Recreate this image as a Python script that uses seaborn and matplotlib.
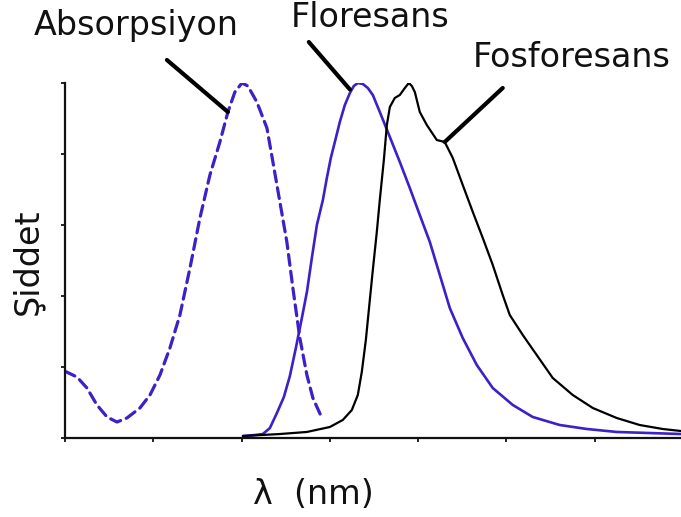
import numpy as np
import pandas as pd
import matplotlib
matplotlib.use("Agg")
import matplotlib.pyplot as plt
import seaborn as sns

# ---- data (arbitrary units) ----
abs_x = [0.0, 0.136, 0.249, 0.362, 0.476, 0.589, 0.702, 0.849, 0.963, 1.076,
         1.189, 1.302, 1.416, 1.529, 1.642, 1.755, 1.846, 1.925, 2.005, 2.072,
         2.174, 2.288, 2.356, 2.435, 2.514, 2.582, 2.661, 2.741, 2.809, 2.911]
abs_y = [0.94, 0.859, 0.704, 0.465, 0.296, 0.225, 0.282, 0.423, 0.606, 0.887,
         1.268, 1.732, 2.394, 3.099, 3.704, 4.169, 4.592, 4.873, 5.0, 4.958,
         4.732, 4.366, 3.887, 3.324, 2.761, 2.113, 1.408, 0.887, 0.563, 0.282]

flu_x = [2.016, 2.152, 2.242, 2.322, 2.401, 2.480, 2.548, 2.616, 2.684, 2.741,
         2.797, 2.854, 2.922, 2.967, 3.012, 3.069, 3.114, 3.171, 3.228, 3.273,
         3.318, 3.375, 3.431, 3.488, 3.567, 3.681, 3.794, 3.907, 4.020, 4.134,
         4.247, 4.360, 4.507, 4.666, 4.847, 5.074, 5.300, 5.606, 5.912, 6.251,
         6.625, 6.976]
flu_y = [0.028, 0.042, 0.056, 0.141, 0.352, 0.577, 0.873, 1.268, 1.690, 2.056,
         2.535, 3.0, 3.352, 3.662, 3.944, 4.225, 4.451, 4.690, 4.859, 4.958,
         5.0, 4.986, 4.930, 4.831, 4.592, 4.239, 3.887, 3.521, 3.141, 2.761,
         2.296, 1.831, 1.408, 1.028, 0.704, 0.465, 0.296, 0.183, 0.127, 0.085,
         0.070, 0.056]

fos_x = [2.016, 2.435, 2.741, 3.001, 3.148, 3.250, 3.318, 3.363, 3.409, 3.454,
         3.488, 3.533, 3.567, 3.613, 3.647, 3.681, 3.737, 3.794, 3.851, 3.896,
         3.930, 3.964, 4.020, 4.100, 4.213, 4.303, 4.394, 4.507, 4.621, 4.734,
         4.847, 4.960, 5.040, 5.187, 5.345, 5.527, 5.753, 5.980, 6.251, 6.512,
         6.772, 6.976]
fos_y = [0.028, 0.056, 0.085, 0.155, 0.254, 0.394, 0.606, 0.930, 1.380, 1.944,
         2.366, 2.901, 3.352, 3.915, 4.408, 4.662, 4.789, 4.831, 4.930, 5.0,
         4.958, 4.873, 4.592, 4.408, 4.197, 4.169, 3.944, 3.563, 3.183, 2.817,
         2.437, 2.014, 1.732, 1.451, 1.169, 0.845, 0.606, 0.423, 0.282, 0.183,
         0.127, 0.099]

labels = ["Absorpsiyon", "Floresans", "Fosforesans"]
x_label = "λ  (nm)"
y_label = "Şiddet"

# ---- styling ----
sns.set_theme(style="white")
plt.rcParams['font.family'] = ['DejaVu Sans']
plt.rcParams['lines.solid_joinstyle'] = 'round'
plt.rcParams['lines.solid_capstyle'] = 'round'

W, H, DPI = 681, 517, 100
fig = plt.figure(figsize=(W / DPI, H / DPI), dpi=DPI)
ax = fig.add_axes([65 / W, (H - 438) / H, (W - 65) / W, (438 - 83) / H])

blue = "#3a22c8"
df_abs = pd.DataFrame({"x": abs_x, "y": abs_y})
df_flu = pd.DataFrame({"x": flu_x, "y": flu_y})
df_fos = pd.DataFrame({"x": fos_x, "y": fos_y})

sns.lineplot(data=df_abs, x="x", y="y", ax=ax, color=blue, lw=2.3,
             sort=False, estimator=None)
ax.lines[-1].set_dashes((3.4, 1.9))
ax.lines[-1].set_dash_capstyle('round')
sns.lineplot(data=df_flu, x="x", y="y", ax=ax, color=blue, lw=1.9,
             sort=False, estimator=None)
sns.lineplot(data=df_fos, x="x", y="y", ax=ax, color="black", lw=1.6,
             sort=False, estimator=None)

ax.set_xlim(0, 6.98)
ax.set_ylim(0, 5.0)
ax.set_xticks(range(0, 7))
ax.set_yticks(range(0, 6))
ax.set_xticklabels([])
ax.set_yticklabels([])
ax.set_xlabel("")
ax.set_ylabel("")
sns.despine(ax=ax, top=True, right=True)
for s in ("left", "bottom"):
    ax.spines[s].set_color("#111111")
    ax.spines[s].set_linewidth(1.6)
ax.tick_params(axis="both", which="both", direction="out", length=3, width=1.3,
               color="#111111", left=True, bottom=True)

# ---- leader lines (from label towards curves) ----
lead = dict(arrowstyle="-", lw=3.0, color="black", shrinkA=0, shrinkB=0)
ax.annotate("", xy=(abs_x[16], abs_y[16]), xytext=(1.155, 5.324),
            arrowprops=lead, annotation_clip=False)
ax.annotate("", xy=(flu_x[18], flu_y[18] + 0.05), xytext=(2.763, 5.577),
            arrowprops=lead, annotation_clip=False)
ax.annotate("", xy=(fos_x[25], fos_y[25]), xytext=(4.96, 4.93),
            arrowprops=lead, annotation_clip=False)

# ---- texts ----
fs = 24
fig.text(136 / W, 1 - 35 / H, labels[0], ha="center", va="baseline", fontsize=fs, color="#111111")
fig.text(370 / W, 1 - 27 / H, labels[1], ha="center", va="baseline", fontsize=fs, color="#111111")
fig.text(572 / W, 1 - 67 / H, labels[2], ha="center", va="baseline", fontsize=fs, color="#111111")
fig.text(28 / W, 1 - 262 / H, y_label, rotation=90, ha="center", va="center", fontsize=fs, color="#111111")
fig.text(313 / W, 1 - 494 / H, x_label, ha="center", va="center", fontsize=fs, color="#111111")

fig.savefig("out.png", dpi=DPI)
